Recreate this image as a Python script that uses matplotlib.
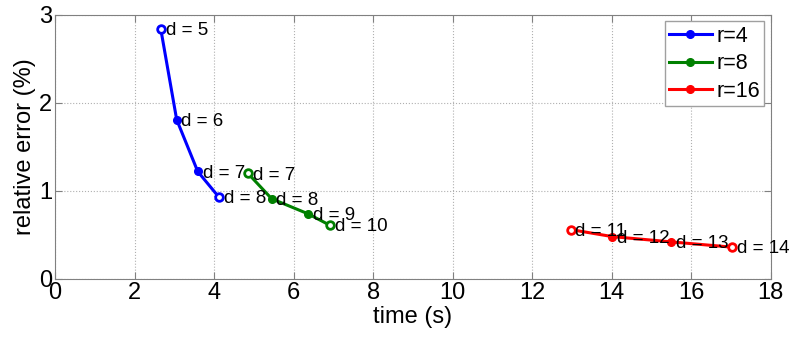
import matplotlib
matplotlib.use("Agg")
import matplotlib.pyplot as plt

plt.rcParams['font.family'] = ['Liberation Sans', 'DejaVu Sans']

t_r4 = [2.66, 3.06, 3.59, 4.12]
e_r4 = [2.84, 1.81, 1.22, 0.93]
d_r4 = [5, 6, 7, 8]

t_r8 = [4.85, 5.45, 6.36, 6.91]
e_r8 = [1.20, 0.91, 0.74, 0.61]
d_r8 = [7, 8, 9, 10]

t_r16 = [12.97, 14.02, 15.5, 17.03]
e_r16 = [0.56, 0.48, 0.42, 0.36]
d_r16 = [11, 12, 13, 14]

series = [("r=4", t_r4, e_r4, d_r4, "#0000ff"),
          ("r=8", t_r8, e_r8, d_r8, "#008000"),
          ("r=16", t_r16, e_r16, d_r16, "#ff0000")]

fig = plt.figure(figsize=(7.97, 3.38), dpi=100)
ax = fig.add_axes([0.069, 0.175, 0.898, 0.781])

for name, t, e, d, c in series:
    ax.plot(t, e, '-', color=c, lw=2.2, marker='o', ms=5.5, label=name, zorder=3)
    ax.plot([t[0], t[-1]], [e[0], e[-1]], 'o', color=c, mfc='white', mec=c, mew=2, ms=5.5, zorder=4)
    for ti, ei, di in zip(t, e, d):
        ax.text(ti + 0.12, ei - 0.02, f"d = {di}", fontsize=13.5, ha='left', va='center', zorder=5)

ax.set_xlim(0, 18)
ax.set_ylim(0, 3)
ax.set_xticks(range(0, 19, 2))
ax.set_yticks([0, 1, 2, 3])
ax.grid(True, linestyle=':', color='#b0b0b0', lw=0.8)
ax.tick_params(direction='in', labelsize=17, length=5, color='#808080', pad=2,
               top=True, right=True)
for s in ax.spines.values():
    s.set_color('#808080')
ax.set_xlabel("time (s)", fontsize=17, labelpad=2)
ax.set_ylabel("relative error (%)", fontsize=17, labelpad=2)
leg = ax.legend(loc='upper right', fontsize=15.5, fancybox=False, framealpha=1,
                edgecolor='#a0a0a0', handlelength=2.0, borderpad=0.2,
                labelspacing=0.3, handletextpad=0.2, borderaxespad=0.3)

fig.savefig("out.png", dpi=100)
